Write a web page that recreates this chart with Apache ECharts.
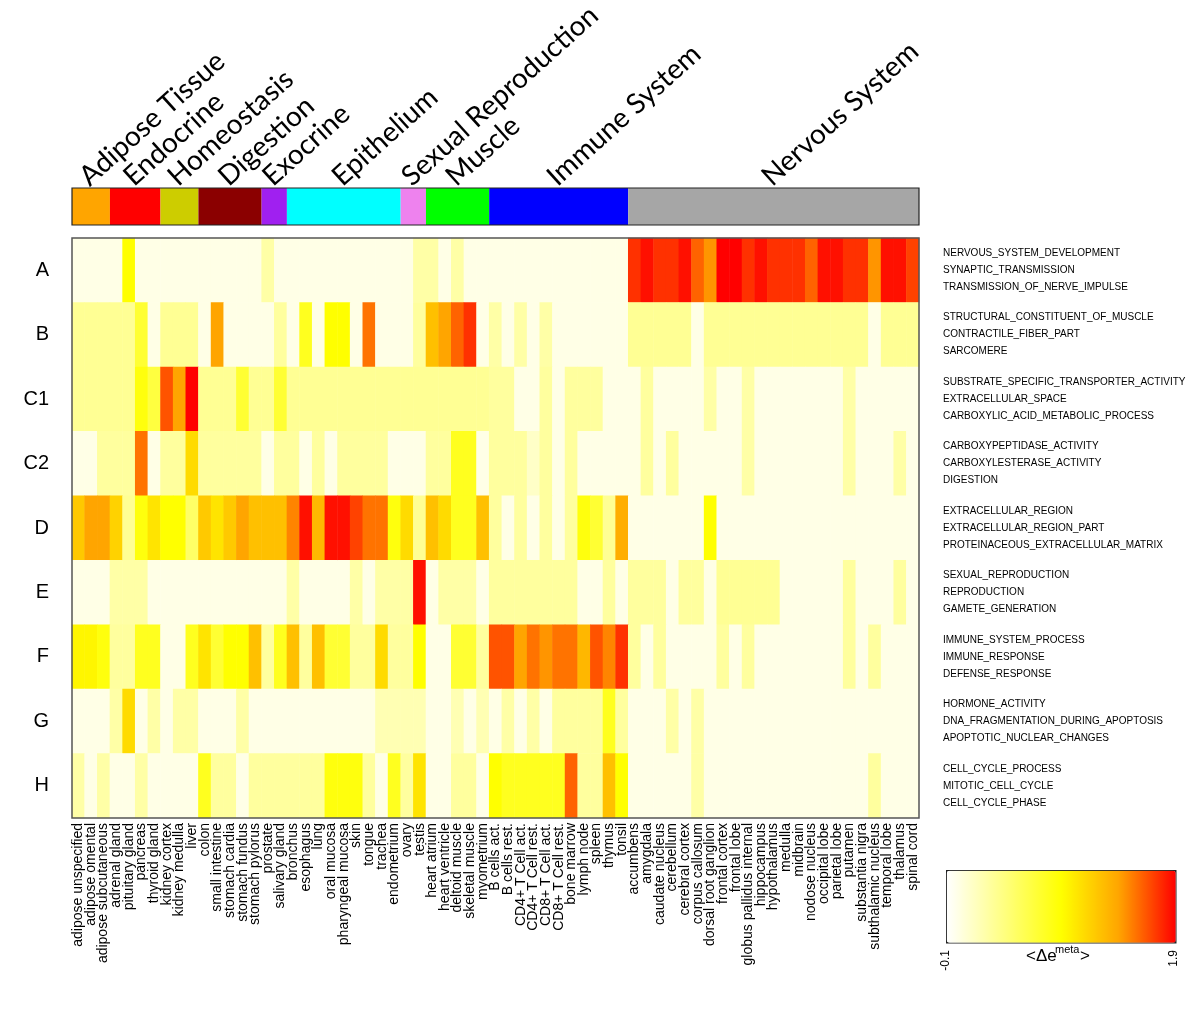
<!DOCTYPE html>
<html><head><meta charset="utf-8">
<script src="https://cdn.jsdelivr.net/npm/echarts@6/dist/echarts.min.js"></script>
<style>html,body{margin:0;padding:0;background:#fff}#c{width:1200px;height:1010px}</style>
</head><body><div id="c"></div>
<script>
const tissues = ['adipose unspecified','adipose omental','adipose subcutaneous','adrenal gland','pituitary gland','pancreas','thyroid gland','kidney cortex','kidney medulla','liver','colon','small intestine','stomach cardia','stomach fundus','stomach pylorus','prostate','salivary gland','bronchus','esophagus','lung','oral mucosa','pharyngeal mucosa','skin','tongue','trachea','endometrium','ovary','testis','heart atrium','heart ventricle','deltoid muscle','skeletal muscle','myometrium','B cells act.','B cells rest.','CD4+ T Cell act.','CD4+ T Cell rest.','CD8+ T Cell act.','CD8+ T Cell rest.','bone marrow','lymph node','spleen','thymus','tonsil','accumbens','amygdala','caudate nucleus','cerebellum','cerebral cortex','corpus callosum','dorsal root ganglion','frontal cortex','frontal lobe','globus pallidus internal','hippocampus','hypothalamus','medulla','midbrain','nodose nucleus','occipital lobe','parietal lobe','putamen','substantia nigra','subthalamic nucleus','temporal lobe','thalamus','spinal cord'];

const rowNames = ['A','B','C1','C2','D','E','F','G','H'];

const geneSets = [
  ['NERVOUS_SYSTEM_DEVELOPMENT','SYNAPTIC_TRANSMISSION','TRANSMISSION_OF_NERVE_IMPULSE'],
  ['STRUCTURAL_CONSTITUENT_OF_MUSCLE','CONTRACTILE_FIBER_PART','SARCOMERE'],
  ['SUBSTRATE_SPECIFIC_TRANSPORTER_ACTIVITY','EXTRACELLULAR_SPACE','CARBOXYLIC_ACID_METABOLIC_PROCESS'],
  ['CARBOXYPEPTIDASE_ACTIVITY','CARBOXYLESTERASE_ACTIVITY','DIGESTION'],
  ['EXTRACELLULAR_REGION','EXTRACELLULAR_REGION_PART','PROTEINACEOUS_EXTRACELLULAR_MATRIX'],
  ['SEXUAL_REPRODUCTION','REPRODUCTION','GAMETE_GENERATION'],
  ['IMMUNE_SYSTEM_PROCESS','IMMUNE_RESPONSE','DEFENSE_RESPONSE'],
  ['HORMONE_ACTIVITY','DNA_FRAGMENTATION_DURING_APOPTOSIS','APOPTOTIC_NUCLEAR_CHANGES'],
  ['CELL_CYCLE_PROCESS','MITOTIC_CELL_CYCLE','CELL_CYCLE_PHASE']
];

const groupNames = ['Adipose Tissue','Endocrine','Homeostasis','Digestion','Exocrine','Epithelium','Sexual Reproduction','Muscle','Immune System','Nervous System'];
const groupSizes = [3,4,3,5,2,9,2,5,11,23];
const groupColors = ['#FFA500','#FF0000','#CDCD00','#8B0000','#A020F0','#00FFFF','#EE82EE','#00FF00','#0000FF','#A6A6A6'];

const colorMin = -0.1, colorMax = 1.9;
const colorStops = ['#FFFFFF','#FFFF80','#FFFF00','#FFA500','#FF0000'];

const rowA = [
0,0,0,0,0.9,0,0,0,0,0,
0,0,0,0,0,0.25,0,0,0,0,
0,0,0,0,0,0,0,0.25,0.25,0,
0.25,0,0,0,0,0,0,0,0,0,
0,0,0,0,1.75,1.85,1.75,1.75,1.85,1.6,
1.45,1.9,1.9,1.75,1.85,1.75,1.75,1.75,1.6,1.85,
1.85,1.75,1.75,1.45,1.85,1.85,1.7];
const rowB = [
0.32,0.32,0.32,0.32,0.32,0.7,0,0.32,0.32,0.32,
0,1.4,0,0,0,0,0.28,0,0.78,0,
0.9,0.9,0,1.55,0,0,0,0.28,1.25,1.4,
1.6,1.75,0,0.25,0,0.25,0,0.25,0,0,
0,0,0,0,0.32,0.32,0.32,0.32,0.32,0,
0.32,0.32,0.32,0.32,0.32,0.32,0.32,0.32,0.32,0.32,
0.32,0.32,0.32,0,0.32,0.32,0.32];
const rowC1 = [
0.32,0.32,0.32,0.32,0.32,0.85,0.65,1.65,1.4,1.9,
0.32,0.32,0.32,0.7,0.32,0.32,0.7,0.32,0.32,0.32,
0.32,0.32,0.32,0.32,0.32,0.32,0.32,0.32,0.32,0.32,
0.32,0.32,0.32,0.28,0.28,0,0,0.28,0,0.28,
0.28,0.28,0,0,0,0.28,0,0,0,0,
0.25,0,0,0.25,0,0,0,0,0,0,
0,0.25,0,0,0,0,0];
const rowC2 = [
0,0,0.28,0.28,0.28,1.55,0,0.28,0.28,1.1,
0.28,0.28,0.28,0.28,0.28,0,0.28,0.28,0,0.28,
0,0.28,0.28,0.28,0.28,0,0,0,0.28,0.28,
0.78,0.78,0,0.28,0.28,0.28,0.12,0.28,0,0.28,
0,0,0,0,0,0.28,0,0.28,0,0,
0,0,0,0.25,0,0,0,0,0,0,
0,0.25,0,0,0,0.25,0];
const rowD = [
1.2,1.4,1.4,1.15,0.32,0.85,1.05,0.9,0.9,0.5,
1.2,1.05,1.2,1.4,1.25,1.25,1.25,1.5,1.85,1.3,
1.85,1.85,1.7,1.55,1.55,0.85,1.1,0.32,1.25,1.1,
0.78,0.78,1.25,0.28,0,0.28,0,0.28,0,0.28,
0.85,0.7,0.32,1.35,0,0,0,0,0,0,
0.9,0,0,0,0,0,0,0,0,0,
0,0,0,0,0,0,0];
const rowE = [
0,0,0,0.25,0.25,0.25,0,0,0,0,
0,0,0,0,0,0,0,0.25,0,0,
0,0,0.25,0,0.25,0.25,0.25,1.85,0,0.25,
0.25,0.25,0,0.28,0.28,0.28,0.28,0.28,0.28,0.28,
0,0,0.28,0,0.28,0.28,0.28,0,0.28,0.28,
0,0.32,0.32,0.32,0.32,0.32,0,0,0,0,
0,0.28,0,0,0,0.28,0];
const rowF = [
0.95,0.95,0.85,0.28,0.28,0.78,0.78,0,0,0.78,
1.05,0.7,0.9,0.9,1.25,0.28,0.78,1.25,0.28,1.25,
0.7,0.7,0.28,0.28,1.1,0.28,0.28,0.9,0,0,
0.7,0.7,0.28,1.65,1.65,1.4,1.55,1.45,1.55,1.55,
1.3,1.65,1.5,1.75,0.28,0,0.28,0,0,0,
0,0.28,0,0.28,0,0,0,0,0,0,
0,0.28,0,0.28,0,0,0];
const rowG = [
0,0,0,0.25,1.1,0,0.25,0,0.25,0.25,
0,0,0,0.25,0,0,0,0,0,0,
0,0,0,0,0.2,0.2,0.2,0.2,0,0,
0.2,0,0.2,0,0.25,0,0.25,0,0.28,0.28,
0.28,0.28,0.78,0.28,0,0,0,0.25,0,0.25,
0,0,0,0,0,0,0,0,0,0,
0,0,0,0,0,0,0];
const rowH = [
0.25,0,0.25,0,0,0.25,0,0,0,0,
0.78,0.28,0.28,0,0.28,0.28,0.28,0.28,0.28,0.28,
0.85,0.85,0.85,0.28,0,0.78,0.28,1.05,0,0,
0.28,0.28,0,0.9,0.78,0.78,0.78,0.78,0.78,1.6,
0.28,0.28,1.25,0.9,0,0,0,0,0,0.25,
0,0,0,0,0,0,0,0,0,0,
0,0,0,0.28,0,0,0];

const rowsValues = [rowA,rowB,rowC1,rowC2,rowD,rowE,rowF,rowG,rowH];
const heatData = [];
rowsValues.forEach((vals, r) => vals.forEach((v, c) => heatData.push([c, r, v])));

const groupData = [];
let startIdx = 0;
groupSizes.forEach((n, i) => { groupData.push([startIdx, startIdx + n - 1, i]); startIdx += n; });

const chart = echarts.init(document.getElementById('c'), null, {renderer: 'canvas'});
const option = {
  animation: false,
  backgroundColor: '#fff',
  grid: [
    {left: 72, top: 238, width: 847, height: 580, show: true, z: 10, borderColor: '#555', borderWidth: 1.5, backgroundColor: 'transparent'},
    {left: 72, top: 188, width: 847, height: 37, show: true, z: 10, borderColor: '#222', borderWidth: 1.2, backgroundColor: 'transparent'}
  ],
  xAxis: [
    {type: 'category', data: tissues, gridIndex: 0, axisLine: {show: false}, axisTick: {show: false}, splitLine: {show: false},
     axisLabel: {rotate: 90, interval: 0, fontSize: 14, fontFamily: 'Liberation Sans, Arial, sans-serif', color: '#000', margin: 5}},
    {type: 'category', data: tissues, gridIndex: 1, show: false}
  ],
  yAxis: [
    {type: 'category', data: rowNames, inverse: true, gridIndex: 0, axisLine: {show: false}, axisTick: {show: false}, splitLine: {show: false},
     axisLabel: {fontSize: 20, fontFamily: 'Liberation Sans, Arial, sans-serif', color: '#000', margin: 23}},
    {type: 'category', data: rowNames, inverse: true, gridIndex: 0, position: 'right', axisLine: {show: false}, axisTick: {show: false}, splitLine: {show: false},
     axisLabel: {formatter: (v, i) => geneSets[i].join('\n'), fontSize: 10, lineHeight: 17, align: 'left', color: '#000', fontFamily: 'Liberation Sans, Arial, sans-serif', margin: 24, padding: [4, 0, 0, 0]}},
    {type: 'value', gridIndex: 1, min: 0, max: 1, show: false}
  ],
  visualMap: {
    type: 'continuous', min: colorMin, max: colorMax, seriesIndex: 0, orient: 'horizontal',
    left: 946, top: 870, itemWidth: 72, itemHeight: 229, calculable: false, text: null, showLabel: false,
    padding: 0, borderColor: '#222', borderWidth: 1.5,
    inRange: {color: colorStops}
  },
  graphic: [
    {type: 'text', left: 940, top: 950, rotation: Math.PI / 2, style: {text: String(colorMin), font: '12px Liberation Sans', fill: '#000'}},
    {type: 'text', left: 1168, top: 950, rotation: Math.PI / 2, style: {text: String(colorMax), font: '12px Liberation Sans', fill: '#000'}},
    {type: 'text', left: 1055, top: 944, style: {text: 'meta', font: '11px Liberation Sans', fill: '#000'}},
    {type: 'text', left: 1026, top: 948, style: {text: '<Δe', font: '17px Liberation Sans', fill: '#000'}},
    {type: 'text', left: 1080, top: 948, style: {text: '>', font: '17px Liberation Sans', fill: '#000'}}
  ],
  series: [
    {type: 'heatmap', xAxisIndex: 0, yAxisIndex: 0, data: heatData, itemStyle: {borderWidth: 0}, emphasis: {disabled: true}, progressive: 0},
    {type: 'custom', xAxisIndex: 1, yAxisIndex: 2, data: groupData, encode: {x: [0, 1]}, clip: false,
     renderItem: (params, api) => {
       const s = api.value(0), e = api.value(1), gi = api.value(2);
       const pTop = api.coord([s, 1]);
       const pBot = api.coord([e, 0]);
       const w = api.size([1, 0])[0];
       const x0 = pTop[0] - w / 2, x1 = pBot[0] + w / 2;
       const y0 = pTop[1], y1 = pBot[1];
       const cx = (x0 + x1) / 2;
       return {type: 'group', children: [
         {type: 'rect', shape: {x: x0, y: y0, width: x1 - x0, height: y1 - y0}, style: {fill: groupColors[gi]}},
         {type: 'text', x: cx + 2, y: y0 + 3, rotation: 42 * Math.PI / 180,
          style: {text: groupNames[gi], font: '28px Lato', fill: '#000', textAlign: 'left', textVerticalAlign: 'bottom'}}
       ]};
     }}
  ]
};
chart.setOption(option);
</script>
</body></html>
